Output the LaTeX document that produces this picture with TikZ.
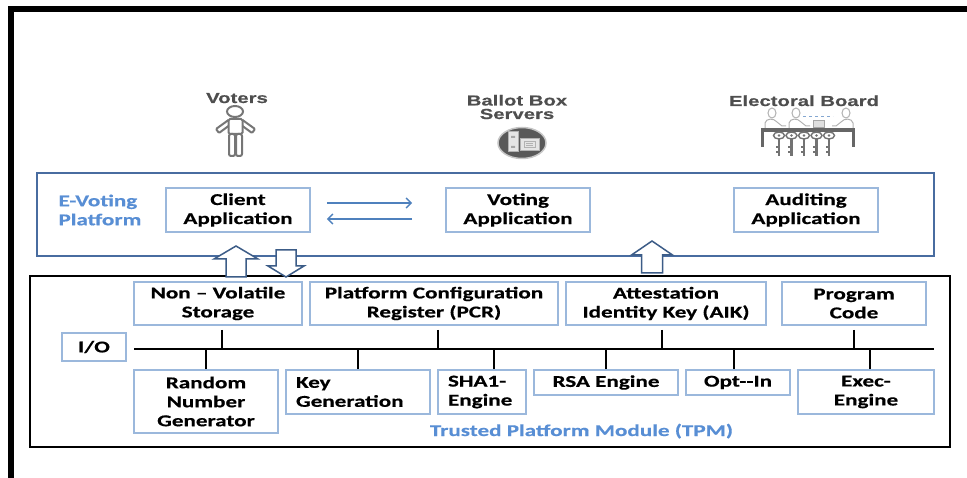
\documentclass[tikz,border=0pt]{standalone}
\usepackage{fontspec}
\usetikzlibrary{arrows.meta,positioning}

\newfontfamily\boxfont{Carlito}[FakeStretch=1.4, BoldFeatures={FakeBold=0.5}]
\newfontfamily\iconfont{Liberation Sans}[FakeStretch=1.4, BoldFeatures={FakeBold=0.4}]

\definecolor{platblue}{RGB}{72,108,160}
\definecolor{boxblue}{RGB}{155,184,220}
\definecolor{labelblue}{RGB}{88,142,212}
\definecolor{arrowblue}{RGB}{79,129,189}
\definecolor{fatblue}{RGB}{60,92,135}
\definecolor{icongray}{RGB}{118,118,118}
\definecolor{textgray}{RGB}{78,78,78}

\tikzset{
  unit/.style={draw=boxblue, line width=1.6pt, fill=white, align=center, inner sep=2pt,
    font={\boxfont\bfseries\fontsize{16.5}{19}\selectfont}},
  leftunit/.style={unit, align=left, text width=#1, inner xsep=10pt},
  bluelabel/.style={text=labelblue, font={\boxfont\bfseries\fontsize{16.5}{19}\selectfont}},
  who/.style={text=textgray, align=center, font={\iconfont\bfseries\fontsize{14.5}{13.5}\selectfont}},
  flow/.style={draw=arrowblue, line width=1.5pt, -{Straight Barb[length=5pt,width=10pt]}},
  fatarrow/.style={draw=fatblue, fill=white, line width=1.5pt, line join=miter},
  bus/.style={line width=2.5pt},
  iconline/.style={draw=icongray, line width=2pt},
}

\begin{document}
\begin{tikzpicture}[x=1pt,y=-1pt]
\useasboundingbox (0,0) rectangle (967,478);

% outer frame
\draw[line width=6pt] (11,478) -- (11,9) -- (967,9);

% actors
\node[who, anchor=base] (voters) at (237,103) {Voters};
\node[who, anchor=base] (ballot) at (517,119) {Ballot Box\\Servers};
\node[who, anchor=base] (board) at (804,106) {Electoral Board};

% voter figure
\draw[iconline] (235,111.5) ellipse [x radius=8, y radius=5.5];
\draw[iconline, rounded corners=1.5] (228.5,119) rectangle (242.5,134);
\draw[iconline, rounded corners=1] (228.5,120) -- (216,129) -- (219,133) -- (228.5,126);
\draw[iconline, rounded corners=1] (242.5,120) -- (255,129) -- (252,133) -- (242.5,126);
\draw[iconline, rounded corners=2] (229,134) rectangle (235,156);
\draw[iconline, rounded corners=2] (236,134) rectangle (242,156);

% server badge
\draw[draw=gray!45, line width=1.5pt, fill=black!65] (522,143) ellipse [x radius=24, y radius=15.5];
\draw[draw=gray!60, fill=gray!20] (508,131) rectangle (518,151);
\fill[gray!70] (511,136) rectangle (515,138) (511,146) rectangle (515,148);
\draw[draw=gray!60, fill=gray!20] (520,138) rectangle (539,150);
\draw[gray!60, line width=0.8pt] (524,141) rectangle (535,147);
\draw[gray!60, line width=0.6pt] (526,143) -- (533,143) (526,145) -- (533,145);

% board at the table
\draw[draw=gray!60, line width=1pt] (772,113) ellipse [x radius=4, y radius=5];
\draw[draw=gray!60, line width=1pt] (765,129) -- (765,123) .. controls (766,118) and (774,118) .. (777,122) -- (782,126) -- (786,126);
\draw[draw=gray!60, line width=1pt] (796,113) ellipse [x radius=4, y radius=5];
\draw[draw=gray!60, line width=1pt] (789,129) -- (789,123) .. controls (790,118) and (798,118) .. (801,122) -- (806,126) -- (810,126);
\draw[draw=gray!60, line width=1pt] (846,113) ellipse [x radius=4, y radius=5];
\draw[draw=gray!60, line width=1pt] (853,129) -- (853,123) .. controls (852,118) and (844,118) .. (841,122) -- (836,126) -- (832,126);
\draw[draw=arrowblue!70, line width=0.8pt, dashed] (803,116) -- (833,116);
\draw[draw=gray!70, fill=gray!25] (813,120) rectangle (824,127.5);
\fill[black!60] (761,128.5) rectangle (855,132);
\draw[black!60, line width=2.5pt] (762.5,132) -- (762.5,147) (853.5,132) -- (853.5,147);
\foreach \k in {0,...,4} {
  \draw[black!55, line width=2.2pt] (779+12.5*\k,138) -- (779+12.5*\k,156)
    (779+12.5*\k,147) -- (775.5+12.5*\k,147) (779+12.5*\k,152) -- (775.5+12.5*\k,152);
  \draw[draw=black!55, fill=white, line width=1.4pt] (779+12.5*\k,135.5) ellipse [x radius=5.5, y radius=3.5];
  \fill[black!55] (779+12.5*\k,135.5) circle [radius=1.3];
}

% e-voting platform
\node[draw=platblue, line width=2pt, minimum width=897pt, minimum height=83pt, inner sep=0pt] (platform) at (485.5,214.5) {};
\node[bluelabel, align=left, anchor=west] (evlabel) at (55,210) {E-Voting\\Platform};
\node[unit, minimum width=144pt, minimum height=44pt] (client) at (238,210) {Client\\Application};
\node[unit, minimum width=144pt, minimum height=44pt] (voting) at (518,210) {Voting\\Application};
\node[unit, minimum width=144pt, minimum height=44pt] (audit) at (806,210) {Auditing\\Application};

\draw[flow, shorten <=16pt, shorten >=33pt] ([yshift=7pt]client.east) -- ([yshift=7pt]voting.west);
\draw[flow, shorten <=33pt, shorten >=16pt] ([yshift=-9pt]voting.west) -- ([yshift=-9pt]client.east);

% trusted platform module
\node[draw=black, line width=2pt, minimum width=920pt, minimum height=171pt, inner sep=0pt] (tpm) at (490,361.5) {};
\node[bluelabel, anchor=base] (tpmlabel) at (581.5,436) {Trusted Platform Module (TPM)};

\node[unit, minimum width=168pt, minimum height=43pt] (storage) at (218,303.5) {Non – Volatile\\Storage};
\node[unit, minimum width=248pt, minimum height=43pt] (pcr) at (434,303.5) {Platform Configuration\\Register (PCR)};
\node[unit, minimum width=200pt, minimum height=43pt] (aik) at (666,303.5) {Attestation\\Identity Key (AIK)};
\node[unit, minimum width=144pt, minimum height=43pt] (prog) at (854,303.5) {Program\\Code};

\node[unit, minimum width=64pt, minimum height=28pt] (io) at (94,347) {I/O};

\node[unit, minimum width=144pt, minimum height=63pt] (rng) at (206,401.5) {Random\\Number\\Generator};
\node[leftunit=124pt, minimum height=44pt] (keygen) at (358,392) {Key\\Generation};
\node[leftunit=68pt, minimum height=44pt] (sha) at (482,392) {SHA1-\\Engine};
\node[unit, minimum width=144pt, minimum height=25pt] (rsa) at (606,382.5) {RSA Engine};
\node[unit, minimum width=104pt, minimum height=25pt] (optin) at (738,382.5) {Opt-{}-In};
\node[unit, minimum width=136pt, minimum height=44pt] (exec) at (866,392) {Exec-\\Engine};

% internal bus
\coordinate (busw) at (134,349);
\coordinate (buse) at (934,349);
\draw[bus] (busw) -- (buse);
\foreach \n/\dx in {storage/4, pcr/4, aik/-4, prog/0}
  \draw[bus, shorten <=4pt] ([xshift=\dx pt]\n.south) -- ([xshift=\dx pt]\n.south |- busw);
\foreach \n/\dx in {rng/0, keygen/0, sha/12, rsa/0, optin/-4, exec/4}
  \draw[bus] ([xshift=\dx pt]\n.north) -- ([xshift=\dx pt]\n.north |- busw);

% data exchange between tpm and platform
\draw[fatarrow] (226,277) -- (226,259) -- (214,259) -- (236,246) -- (258,259) -- (246,259) -- (246,277) -- cycle;
\draw[fatarrow] (276,250) -- (276,266) -- (268,266) -- (286,277) -- (304,266) -- (296,266) -- (296,250) -- cycle;
\draw[fatarrow] (641.5,273) -- (641.5,255) -- (631.5,255) -- (652,241) -- (672.5,255) -- (662.5,255) -- (662.5,273) -- cycle;
\end{tikzpicture}
\end{document}
